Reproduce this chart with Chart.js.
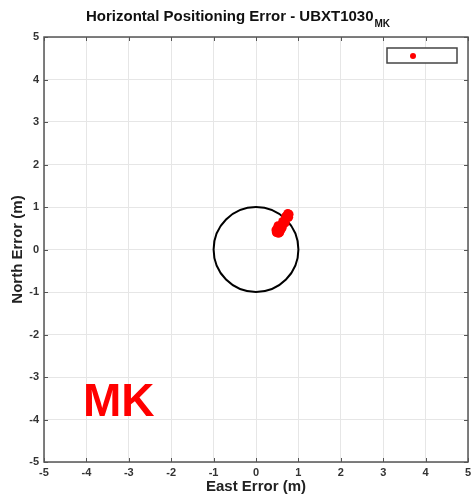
<!DOCTYPE html>
<html>
<head>
<meta charset="utf-8">
<script src="https://cdn.jsdelivr.net/npm/chart.js@4.4.1/dist/chart.umd.min.js"></script>
<style>
html,body{margin:0;padding:0;background:#fff;}
#wrap{width:471px;height:497px;}
</style>
</head>
<body>
<div id="wrap"><canvas id="c" width="471" height="497"></canvas></div>
<script>
// ---- data ----
const eastError  = [0.48,0.50,0.52,0.55,0.50,0.57,0.60,0.58,0.55,0.62,0.65,0.63,0.68,0.70,0.72,0.73,0.76,0.78,0.75,0.70,0.60,0.53,0.66,0.74,0.47,0.56,0.62,0.69,0.77,0.52];
const northError = [0.40,0.45,0.42,0.48,0.50,0.45,0.48,0.52,0.55,0.60,0.62,0.66,0.68,0.72,0.75,0.78,0.80,0.83,0.85,0.78,0.55,0.38,0.64,0.80,0.46,0.40,0.52,0.63,0.76,0.56];
const tickValues = [-5,-4,-3,-2,-1,0,1,2,3,4,5];
const circleRadius = 1;
const chartTitle = 'Horizontal Positioning Error - UBXT1030';
const titleSub = 'MK';
const xTitle = 'East Error (m)';
const yTitle = 'North Error (m)';
const bigLabel = 'MK';

const points = eastError.map((e, i) => ({x: e, y: northError[i]}));
const FONT = 'Arial, "Liberation Sans", Helvetica, sans-serif';

const deco = {
  id: 'deco',
  beforeDatasetsDraw(chart) {
    const {ctx, scales: {x, y}} = chart;
    const cx = x.getPixelForValue(0), cy = y.getPixelForValue(0);
    const rx = x.getPixelForValue(circleRadius) - cx;
    const ry = cy - y.getPixelForValue(circleRadius);
    ctx.save();
    ctx.strokeStyle = '#000';
    ctx.lineWidth = 2;
    ctx.beginPath();
    ctx.ellipse(cx, cy, rx, ry, 0, 0, Math.PI * 2);
    ctx.stroke();
    ctx.fillStyle = '#ff0000';
    ctx.font = 'bold 46px ' + FONT;
    ctx.textAlign = 'left';
    ctx.textBaseline = 'alphabetic';
    ctx.fillText(bigLabel, 83, 416);
    ctx.restore();
  },
  afterDraw(chart) {
    const {ctx, chartArea: a, scales: {x, y}} = chart;
    ctx.save();
    ctx.strokeStyle = '#555';
    ctx.lineWidth = 1;
    ctx.beginPath();
    tickValues.forEach(v => {
      const px = Math.round(x.getPixelForValue(v)) + 0.5;
      ctx.moveTo(px, a.bottom); ctx.lineTo(px, a.bottom - 4);
      ctx.moveTo(px, a.top); ctx.lineTo(px, a.top + 4);
      const py = Math.round(y.getPixelForValue(v)) + 0.5;
      ctx.moveTo(a.left, py); ctx.lineTo(a.left + 4, py);
      ctx.moveTo(a.right, py); ctx.lineTo(a.right - 4, py);
    });
    ctx.stroke();
    ctx.strokeStyle = '#555';
    ctx.lineWidth = 1.5;
    ctx.strokeRect(a.left, a.top, a.right - a.left, a.bottom - a.top);
    // legend box
    ctx.fillStyle = '#fff';
    ctx.fillRect(387, 48, 70, 15);
    ctx.strokeStyle = '#444';
    ctx.lineWidth = 1.5;
    ctx.strokeRect(387, 48, 70, 15);
    ctx.fillStyle = chart.data.datasets[0].backgroundColor;
    ctx.beginPath();
    ctx.arc(413, 56, 3, 0, Math.PI * 2);
    ctx.fill();
    // title
    ctx.fillStyle = '#111';
    ctx.textAlign = 'left';
    ctx.textBaseline = 'alphabetic';
    ctx.font = 'bold 15px ' + FONT;
    ctx.fillText(chartTitle, 86, 21);
    const w = ctx.measureText(chartTitle).width;
    ctx.font = 'bold 10px ' + FONT;
    ctx.fillText(titleSub, 86 + w + 1, 27);
    // axis titles
    ctx.font = 'bold 15px ' + FONT;
    ctx.textAlign = 'center';
    ctx.textBaseline = 'middle';
    ctx.fillStyle = '#222';
    ctx.fillText(xTitle, (a.left + a.right) / 2, 487);
    ctx.save();
    ctx.translate(18, (a.top + a.bottom) / 2);
    ctx.rotate(-Math.PI / 2);
    ctx.fillText(yTitle, 0, 0);
    ctx.restore();
    ctx.restore();
  }
};

new Chart(document.getElementById('c'), {
  type: 'scatter',
  data: {
    datasets: [{
      data: points,
      backgroundColor: '#ff0000',
      borderColor: '#ff0000',
      pointRadius: 4.5,
      pointBorderWidth: 0,
      pointHoverRadius: 4.5
    }]
  },
  options: {
    responsive: false,
    animation: false,
    events: [],
    layout: {autoPadding: false, padding: {top: 37, right: 3, left: 0, bottom: 0}},
    plugins: {legend: {display: false}, tooltip: {enabled: false}, title: {display: false}},
    scales: {
      x: {
        type: 'linear', min: -5, max: 5,
        afterBuildTicks(s) { s.ticks = tickValues.map(v => ({value: v})); },
        afterFit(s) { s.height = 35; s.paddingLeft = 0; s.paddingRight = 0; },
        grid: {color: '#e6e6e6', lineWidth: 1, drawTicks: false},
        border: {display: false},
        ticks: {padding: 4, color: '#333', font: {family: FONT, size: 11, weight: 'bold'}, maxRotation: 0}
      },
      y: {
        type: 'linear', min: -5, max: 5,
        afterBuildTicks(s) { s.ticks = tickValues.map(v => ({value: v})); },
        afterFit(s) { s.width = 44; s.paddingTop = 0; s.paddingBottom = 0; },
        grid: {color: '#e6e6e6', lineWidth: 1, drawTicks: false},
        border: {display: false},
        ticks: {padding: 5, color: '#333', font: {family: FONT, size: 11, weight: 'bold'}}
      }
    }
  },
  plugins: [deco]
});
</script>
</body>
</html>
